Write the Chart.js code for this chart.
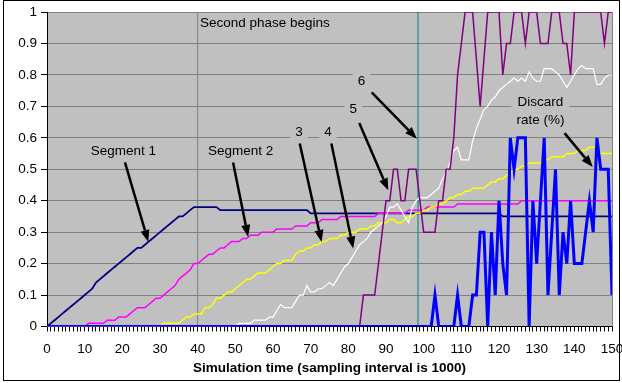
<!DOCTYPE html>
<html>
<head>
<meta charset="utf-8">
<script src="https://cdn.jsdelivr.net/npm/chart.js@4/dist/chart.umd.min.js"></script>
<style>
  html, body { margin: 0; padding: 0; background: #fff; }
</style>
</head>
<body>
<canvas id="simChart" width="622" height="383"></canvas>
<script>
// sampling steps 0..150 (one sample every 1000 events)
let steps = Array.from({ length: 151 }, (_, i) => i);

// Segment 1
let seg1 = [
  0, 0.01, 0.02, 0.03, 0.04, 0.05, 0.06, 0.07, 0.08, 0.09,
  0.1, 0.11, 0.12, 0.14, 0.15, 0.16, 0.17, 0.18, 0.19, 0.2,
  0.21, 0.22, 0.23, 0.24, 0.25, 0.25, 0.26, 0.27, 0.28, 0.29,
  0.3, 0.31, 0.32, 0.33, 0.34, 0.35, 0.35, 0.36, 0.37, 0.38,
  0.38, 0.38, 0.38, 0.38, 0.38, 0.38, 0.37, 0.37, 0.37, 0.37,
  0.37, 0.37, 0.37, 0.37, 0.37, 0.37, 0.37, 0.37, 0.37, 0.37,
  0.37, 0.37, 0.37, 0.37, 0.37, 0.37, 0.37, 0.37, 0.37, 0.37,
  0.36, 0.36, 0.36, 0.36, 0.36, 0.36, 0.36, 0.36, 0.36, 0.36,
  0.36, 0.36, 0.36, 0.36, 0.36, 0.36, 0.36, 0.36, 0.36, 0.36,
  0.36, 0.36, 0.36, 0.36, 0.36, 0.36, 0.36, 0.36, 0.36, 0.36,
  0.36, 0.36, 0.36, 0.36, 0.36, 0.36, 0.36, 0.36, 0.36, 0.36,
  0.36, 0.36, 0.36, 0.36, 0.36, 0.36, 0.36, 0.36, 0.36, 0.36,
  0.36, 0.35, 0.35, 0.35, 0.35, 0.35, 0.35, 0.35, 0.35, 0.35,
  0.35, 0.35, 0.35, 0.35, 0.35, 0.35, 0.35, 0.35, 0.35, 0.35,
  0.35, 0.35, 0.35, 0.35, 0.35, 0.35, 0.35, 0.35, 0.35, 0.35,
  0.35
];

// Segment 2
let seg2 = [
  0, 0, 0, 0, 0, 0, 0, 0, 0, 0,
  0, 0.01, 0.01, 0.01, 0.01, 0.01, 0.02, 0.02, 0.02, 0.03,
  0.03, 0.03, 0.04, 0.05, 0.06, 0.06, 0.06, 0.07, 0.08, 0.09,
  0.09, 0.1, 0.11, 0.12, 0.13, 0.15, 0.16, 0.17, 0.18, 0.2,
  0.2, 0.21, 0.22, 0.23, 0.23, 0.24, 0.25, 0.25, 0.26, 0.27,
  0.27, 0.27, 0.28, 0.28, 0.29, 0.29, 0.29, 0.3, 0.3, 0.3,
  0.3, 0.31, 0.31, 0.31, 0.31, 0.31, 0.32, 0.32, 0.32, 0.32,
  0.33, 0.33, 0.33, 0.34, 0.34, 0.34, 0.34, 0.34, 0.35, 0.35,
  0.35, 0.35, 0.35, 0.35, 0.35, 0.35, 0.35, 0.35, 0.36, 0.36,
  0.36, 0.36, 0.36, 0.36, 0.36, 0.36, 0.37, 0.37, 0.37, 0.37,
  0.37, 0.38, 0.38, 0.38, 0.38, 0.38, 0.38, 0.38, 0.38, 0.39,
  0.39, 0.39, 0.39, 0.39, 0.39, 0.39, 0.39, 0.39, 0.39, 0.39,
  0.39, 0.39, 0.39, 0.39, 0.39, 0.39, 0.4, 0.4, 0.4, 0.4,
  0.4, 0.4, 0.4, 0.4, 0.4, 0.4, 0.4, 0.4, 0.4, 0.4,
  0.4, 0.4, 0.4, 0.4, 0.4, 0.4, 0.4, 0.4, 0.4, 0.4,
  0.4
];

// Segment 3
let seg3 = [
  0, 0, 0, 0, 0, 0, 0, 0, 0, 0,
  0, 0, 0, 0, 0, 0, 0, 0, 0, 0,
  0, 0, 0, 0, 0, 0, 0, 0, 0, 0,
  0, 0.01, 0.01, 0.01, 0.01, 0.01, 0.02, 0.03, 0.03, 0.04,
  0.04, 0.04, 0.06, 0.06, 0.07, 0.09, 0.09, 0.1, 0.11, 0.11,
  0.12, 0.13, 0.14, 0.15, 0.15, 0.16, 0.17, 0.17, 0.17, 0.18,
  0.19, 0.2, 0.2, 0.21, 0.21, 0.21, 0.23, 0.24, 0.24, 0.25,
  0.25, 0.26, 0.26, 0.27, 0.27, 0.28, 0.28, 0.28, 0.29, 0.29,
  0.3, 0.3, 0.3, 0.31, 0.31, 0.31, 0.32, 0.32, 0.33, 0.33,
  0.33, 0.34, 0.34, 0.33, 0.33, 0.34, 0.35, 0.35, 0.36, 0.36,
  0.37, 0.37, 0.38, 0.38, 0.39, 0.39, 0.4, 0.41, 0.41, 0.42,
  0.42, 0.43, 0.43, 0.44, 0.44, 0.44, 0.44, 0.45, 0.46, 0.46,
  0.47, 0.47, 0.48, 0.49, 0.5, 0.5, 0.51, 0.51, 0.52, 0.52,
  0.52, 0.52, 0.53, 0.53, 0.54, 0.54, 0.54, 0.54, 0.55, 0.55,
  0.55, 0.56, 0.56, 0.56, 0.57, 0.57, 0.57, 0.55, 0.55, 0.55,
  0.55
];

// Segment 4
let seg4 = [
  0, 0, 0, 0, 0, 0, 0, 0, 0, 0,
  0, 0, 0, 0, 0, 0, 0, 0, 0, 0,
  0, 0, 0, 0, 0, 0, 0, 0, 0, 0,
  0, 0, 0, 0, 0, 0, 0, 0, 0, 0,
  0, 0, 0, 0, 0, 0, 0, 0, 0, 0,
  0, 0.01, 0.01, 0.01, 0.01, 0.02, 0.02, 0.02, 0.02, 0.03,
  0.03, 0.05, 0.07, 0.06, 0.06, 0.06, 0.08, 0.1, 0.1, 0.13,
  0.11, 0.11, 0.12, 0.12, 0.13, 0.14, 0.13, 0.15, 0.17, 0.19,
  0.2, 0.22, 0.24, 0.26, 0.27, 0.28, 0.3, 0.31, 0.32, 0.33,
  0.35, 0.38, 0.38, 0.39, 0.37, 0.35, 0.33, 0.38, 0.4, 0.41,
  0.41, 0.41, 0.42, 0.43, 0.44, 0.47, 0.49, 0.52, 0.56, 0.57,
  0.53, 0.53, 0.53, 0.59, 0.63, 0.66, 0.69, 0.7, 0.72, 0.73,
  0.75, 0.76, 0.77, 0.78, 0.79, 0.78, 0.79, 0.78, 0.81, 0.79,
  0.78, 0.78, 0.82, 0.82, 0.82, 0.81, 0.8, 0.78, 0.76, 0.78,
  0.8, 0.82, 0.83, 0.82, 0.82, 0.82, 0.77, 0.77, 0.79, 0.8,
  0.8
];

// Segment 5
let seg5 = [
  0, 0, 0, 0, 0, 0, 0, 0, 0, 0,
  0, 0, 0, 0, 0, 0, 0, 0, 0, 0,
  0, 0, 0, 0, 0, 0, 0, 0, 0, 0,
  0, 0, 0, 0, 0, 0, 0, 0, 0, 0,
  0, 0, 0, 0, 0, 0, 0, 0, 0, 0,
  0, 0, 0, 0, 0, 0, 0, 0, 0, 0,
  0, 0, 0, 0, 0, 0, 0, 0, 0, 0,
  0, 0, 0, 0, 0, 0, 0, 0, 0, 0,
  0, 0, 0, 0, 0.1, 0.1, 0.1, 0.1, 0.2, 0.3,
  0.4, 0.4, 0.5, 0.5, 0.4, 0.4, 0.5, 0.5, 0.5, 0.4,
  0.3, 0.3, 0.3, 0.3, 0.4, 0.4, 0.5, 0.5, 0.6, 0.8,
  0.9, 1, 1, 1, 0.85, 0.7, 0.85, 1, 1, 1,
  1, 0.8, 0.9, 0.9, 1, 1, 1, 0.9, 1, 1,
  1, 0.9, 0.9, 0.9, 1, 1, 1, 0.9, 0.9, 0.8,
  1, 1, 1, 1, 1, 1, 1, 1, 0.9, 1,
  1
];

// Discard rate (%)
let discard = [
  0, 0, 0, 0, 0, 0, 0, 0, 0, 0,
  0, 0, 0, 0, 0, 0, 0, 0, 0, 0,
  0, 0, 0, 0, 0, 0, 0, 0, 0, 0,
  0, 0, 0, 0, 0, 0, 0, 0, 0, 0,
  0, 0, 0, 0, 0, 0, 0, 0, 0, 0,
  0, 0, 0, 0, 0, 0, 0, 0, 0, 0,
  0, 0, 0, 0, 0, 0, 0, 0, 0, 0,
  0, 0, 0, 0, 0, 0, 0, 0, 0, 0,
  0, 0, 0, 0, 0, 0, 0, 0, 0, 0,
  0, 0, 0, 0, 0, 0, 0, 0, 0, 0,
  0, 0, 0, 0.1, 0, 0, 0, 0, 0, 0.1,
  0, 0, 0, 0.1, 0.1, 0.3, 0.3, 0, 0.3, 0.1,
  0.4, 0.2, 0.1, 0.6, 0.5, 0.6, 0.6, 0.6, 0, 0.4,
  0.2, 0.4, 0.6, 0.1, 0.3, 0.5, 0.1, 0.3, 0.2, 0.4,
  0.2, 0.2, 0.2, 0.3, 0.4, 0.3, 0.6, 0.5, 0.5, 0.5,
  0.1
];

// marker lines
let phaseBegins = 40;
let phaseLine = 98.5;

let xTitle = "Simulation time (sampling interval is 1000)";
let fontFamily = '"Liberation Sans", Arial, sans-serif';

// text boxes and arrows, in data units
let notes = [
  { lines: ["Second phase begins"], x: 40.6, y: 0.963, left: true, box: false },
  { lines: ["Segment 1"], x: 20.3, y: 0.557 },
  { lines: ["Segment 2"], x: 51.4, y: 0.557 },
  { lines: ["3"], x: 66.9, y: 0.618 },
  { lines: ["4"], x: 74.6, y: 0.618 },
  { lines: ["5"], x: 81.3, y: 0.69 },
  { lines: ["6"], x: 83.5, y: 0.779 },
  { lines: ["Discard", "rate (%)"], x: 131, y: 0.685 }
];
let arrows = [
  [20.7, 0.522, 26.9, 0.269],
  [49.4, 0.522, 53.4, 0.285],
  [67.1, 0.582, 72.9, 0.269],
  [75.5, 0.582, 81.3, 0.248],
  [82.9, 0.647, 90.6, 0.433],
  [86.2, 0.745, 98.2, 0.597],
  [137.4, 0.615, 144.9, 0.507]
];

// 背景 + 边框 + 注释
let framePlugin = {
    id: "frame",
    beforeDraw(chart) {
        let ctx = chart.ctx;
        let a = chart.chartArea;
        ctx.save();
        ctx.fillStyle = "#fff";
        ctx.fillRect(0, 0, chart.width, chart.height);
        ctx.fillStyle = "#c0c0c0";
        ctx.fillRect(a.left, a.top, a.right - a.left, a.bottom - a.top);
        ctx.restore();
    },
    beforeDatasetsDraw(chart) {
        let ctx = chart.ctx;
        let a = chart.chartArea;
        ctx.save();
        ctx.strokeStyle = "#808080";
        ctx.lineWidth = 1;
        ctx.beginPath();
        ctx.moveTo(a.right + 0.5, a.top);
        ctx.lineTo(a.right + 0.5, a.bottom);
        ctx.stroke();
        ctx.restore();
    },
    afterDatasetsDraw(chart) {
        let ctx = chart.ctx;
        let sx = chart.scales.x;
        let sy = chart.scales.y;
        ctx.save();
        ctx.font = "13.5px " + fontFamily;
        ctx.textBaseline = "middle";
        let lh = 18;

        notes.forEach(n => {
            let cx = sx.getPixelForValue(n.x);
            let cy = sy.getPixelForValue(n.y);
            let w = Math.max(...n.lines.map(t => ctx.measureText(t).width));
            let h = n.lines.length * lh;
            let left = n.left ? cx : cx - w / 2;
            if (n.box !== false) {
                ctx.fillStyle = "#c0c0c0";
                ctx.fillRect(left - 5, cy - h / 2 - 2, w + 10, h + 4);
            }
            ctx.fillStyle = "#000";
            ctx.textAlign = "left";
            n.lines.forEach((t, i) => {
                let tw = ctx.measureText(t).width;
                let tx = n.left ? left : cx - tw / 2;
                ctx.fillText(t, tx, cy - h / 2 + lh / 2 + i * lh);
            });
        });

        ctx.strokeStyle = "#000";
        ctx.fillStyle = "#000";
        ctx.lineWidth = 2.5;
        arrows.forEach(ar => {
            let x1 = sx.getPixelForValue(ar[0]), y1 = sy.getPixelForValue(ar[1]);
            let x2 = sx.getPixelForValue(ar[2]), y2 = sy.getPixelForValue(ar[3]);
            let ang = Math.atan2(y2 - y1, x2 - x1);
            let hl = 12, hw = 4.5;
            let bx = x2 - hl * Math.cos(ang), by = y2 - hl * Math.sin(ang);
            ctx.beginPath();
            ctx.moveTo(x1, y1);
            ctx.lineTo(bx, by);
            ctx.stroke();
            ctx.beginPath();
            ctx.moveTo(x2, y2);
            ctx.lineTo(bx + hw * Math.sin(ang), by - hw * Math.cos(ang));
            ctx.lineTo(bx - hw * Math.sin(ang), by + hw * Math.cos(ang));
            ctx.closePath();
            ctx.fill();
        });
        ctx.restore();
    },
    afterDraw(chart) {
        let ctx = chart.ctx;
        ctx.save();
        ctx.strokeStyle = "#000";
        ctx.lineWidth = 1;
        ctx.strokeRect(3.5, 0.5, 616, 380);
        ctx.restore();
    }
};

function line(data, color, width) {
    return {
        data: data,
        borderColor: color,
        borderWidth: width,
        pointRadius: 0,
        fill: false
    };
}

new Chart(document.getElementById("simChart"), {
    type: "line",
    data: {
        labels: steps,
        datasets: [
            line(discard, "#0000ff", 3),
            line(seg5, "#800080", 1.5),
            line(seg4, "#ffffff", 1.2),
            line(seg3, "#ffff00", 1.5),
            line(seg2, "#ff00ff", 1.5),
            line(seg1, "#000080", 1.8),
            line([{ x: phaseLine, y: 0 }, { x: phaseLine, y: 1 }], "#008080", 1),
            line([{ x: phaseBegins, y: 0 }, { x: phaseBegins, y: 1 }], "#808080", 1)
        ]
    },
    options: {
        responsive: false,
        animation: false,
        layout: { padding: { left: 0, right: 10, top: 12, bottom: 0 } },
        plugins: { legend: { display: false }, tooltip: { enabled: false } },
        elements: { line: { tension: 0 } },
        scales: {
            x: {
                type: "linear",
                min: 0,
                max: 150,
                afterFit: s => {
                    s.height = 56.5;
                    s.paddingLeft = 0;
                    s.paddingRight = 0;
                },
                border: { color: "#000" },
                grid: { drawOnChartArea: false, drawTicks: true, tickLength: 5, color: "#000", tickColor: "#000" },
                ticks: {
                    stepSize: 1,
                    autoSkip: false,
                    maxRotation: 0,
                    padding: 10,
                    color: "#000",
                    font: { family: fontFamily, size: 13.5 },
                    callback: v => (v % 10 === 0 ? String(v) : " ")
                },
                title: {
                    display: true,
                    text: xTitle,
                    color: "#000",
                    font: { family: fontFamily, size: 13.5, weight: "bold" },
                    padding: { top: 0, bottom: 7 }
                }
            },
            y: {
                min: 0,
                max: 1,
                afterFit: s => { s.width = 47; },
                border: { color: "#000" },
                grid: { color: "#808080", tickColor: "#000", tickLength: 6 },
                ticks: {
                    stepSize: 0.1,
                    padding: 4,
                    color: "#000",
                    font: { family: fontFamily, size: 13.5 },
                    callback: v => String(Math.round(v * 10) / 10)
                }
            }
        }
    },
    plugins: [framePlugin]
});
</script>
</body>
</html>
